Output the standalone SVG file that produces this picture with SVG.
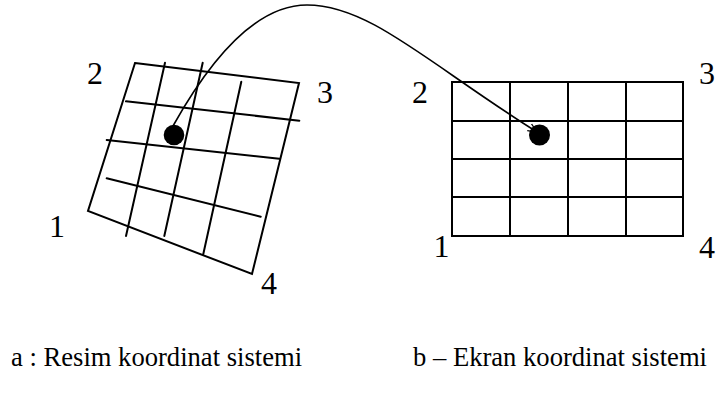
<svg xmlns="http://www.w3.org/2000/svg" width="716" height="396" viewBox="0 0 716 396">
<style>
.ln{stroke:#000;stroke-width:2;fill:none;stroke-linecap:round;stroke-linejoin:miter}
.lab{font-family:'Liberation Serif','Times New Roman','DejaVu Serif',serif;font-size:32px;fill:#000}
.cap{font-family:'Liberation Serif','Times New Roman','DejaVu Serif',serif;font-size:26.6px;fill:#000}
.dot{fill:#000}
</style>
<defs>
<marker id="arr" viewBox="0 0 10 10" refX="9" refY="5" markerWidth="10" markerHeight="10" markerUnits="userSpaceOnUse" orient="auto">
<path d="M0,1 L9,5 L0,9" fill="none" stroke="#000" stroke-width="1.2"/>
</marker>
</defs>
<rect width="716" height="396" fill="#fff"/>
<g id="image-grid">
<polygon class="ln" points="135,63 299,83 252,274 88,211"/>
<line class="ln" x1="126" y1="101.3" x2="299.3" y2="120.7"/>
<line class="ln" x1="106.7" y1="140" x2="279.3" y2="158.7"/>
<line class="ln" x1="106.7" y1="178.3" x2="260.7" y2="216.7"/>
<line class="ln" x1="165" y1="62.7" x2="126" y2="236"/>
<line class="ln" x1="202.7" y1="62.7" x2="164.3" y2="236"/>
<line class="ln" x1="241.3" y1="81.7" x2="203.3" y2="254"/>
<circle class="dot" cx="174" cy="135" r="10.3"/>
<text class="lab" font-family="Liberation Serif, serif" x="87" y="84">2</text>
<text class="lab" font-family="Liberation Serif, serif" x="317" y="103">3</text>
<text class="lab" font-family="Liberation Serif, serif" x="49" y="236.5">1</text>
<text class="lab" font-family="Liberation Serif, serif" x="261" y="294">4</text>
</g>
<g id="screen-grid">
<rect class="ln" x="452" y="82" width="231" height="154"/>
<line class="ln" x1="510" y1="82" x2="510" y2="236"/>
<line class="ln" x1="568" y1="82" x2="568" y2="236"/>
<line class="ln" x1="626" y1="82" x2="626" y2="236"/>
<line class="ln" x1="452" y1="121" x2="683" y2="121"/>
<line class="ln" x1="452" y1="159" x2="683" y2="159"/>
<line class="ln" x1="452" y1="197" x2="683" y2="197"/>
<circle class="dot" cx="539.5" cy="135" r="10.5"/>
<text class="lab" font-family="Liberation Serif, serif" x="412" y="103">2</text>
<text class="lab" font-family="Liberation Serif, serif" x="699" y="84">3</text>
<text class="lab" font-family="Liberation Serif, serif" x="433.5" y="257">1</text>
<text class="lab" font-family="Liberation Serif, serif" x="699" y="258">4</text>
</g>
<g id="connectors">
<path class="ln" style="stroke-width:1.6" d="M173,126 C210,60 255,5 307,5 C370,5 430,65 537,132" marker-end="url(#arr)"/>
</g>
<g id="captions">
<text class="cap" font-family="Liberation Serif, serif" x="11" y="366">a : Resim koordinat sistemi</text>
<text class="cap" font-family="Liberation Serif, serif" x="413" y="366">b – Ekran koordinat sistemi</text>
</g>
</svg>
